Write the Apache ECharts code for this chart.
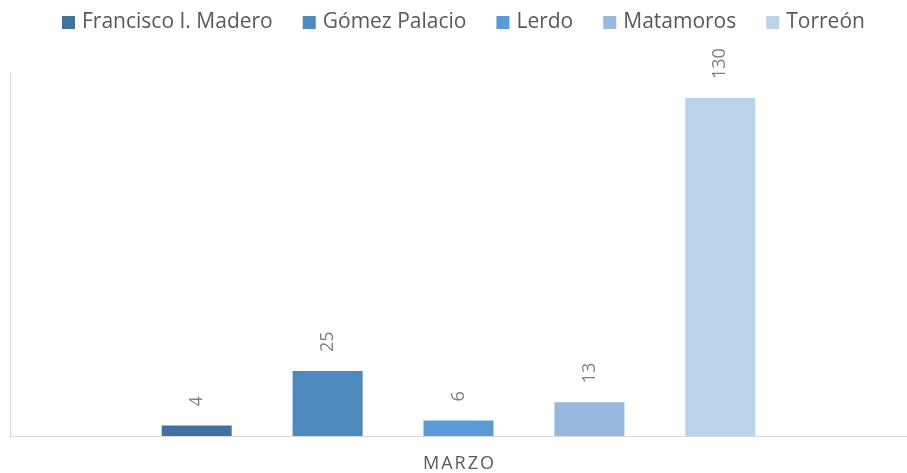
<!DOCTYPE html>
<html><head><meta charset="utf-8">
<script src="https://cdn.jsdelivr.net/npm/echarts@6/dist/echarts.min.js"></script>
<style>html,body{margin:0;padding:0;background:#fff}#c{width:907px;height:473px}</style>
</head><body><div id="c"></div>
<script>
const categories = ['MARZO'];
const seriesNames = ['Francisco I. Madero', 'Gómez Palacio', 'Lerdo', 'Matamoros', 'Torreón'];
const seriesValues = [[4], [25], [6], [13], [130]];
const colors = ['#41719C', '#4E89BE', '#5B9BD5', '#98B9DF', '#BCD1EA'];

const chart = echarts.init(document.getElementById('c'));
chart.setOption({
  animation: false,
  color: colors,
  legend: {
    top: 7, left: 57,
    itemWidth: 13, itemHeight: 13, itemGap: 30,
    icon: 'rect',
    textStyle: { fontFamily: 'Open Sans', fontSize: 21, color: '#595959', padding: [0, 0, 0, 2] },
    data: seriesNames
  },
  grid: { left: 10, right: 0, top: 72, bottom: 36 },
  xAxis: {
    type: 'category', data: categories,
    axisLine: { lineStyle: { color: '#D9D9D9', width: 1 } },
    axisTick: { show: false },
    axisLabel: {
      margin: 19,
      formatter: v => v.split('').map(c => '{l|' + c + '}').join(''),
      rich: { l: { fontFamily: 'Open Sans', fontSize: 18, color: '#595959', padding: [0, 1, 0, 1] } }
    }
  },
  yAxis: {
    type: 'value', min: 0, max: 140,
    axisLine: { show: true, lineStyle: { color: '#D9D9D9', width: 1 } },
    axisLabel: { show: false }, axisTick: { show: false },
    splitLine: { show: false }
  },
  series: seriesNames.map((n, i) => ({
    name: n, type: 'bar', data: seriesValues[i],
    barWidth: 70, barGap: '87%',
    label: {
      show: true, position: 'top', rotate: 90, distance: 19,
      align: 'left', verticalAlign: 'middle',
      fontFamily: 'Open Sans', fontSize: 18, color: '#808080'
    }
  }))
});
</script></body></html>
